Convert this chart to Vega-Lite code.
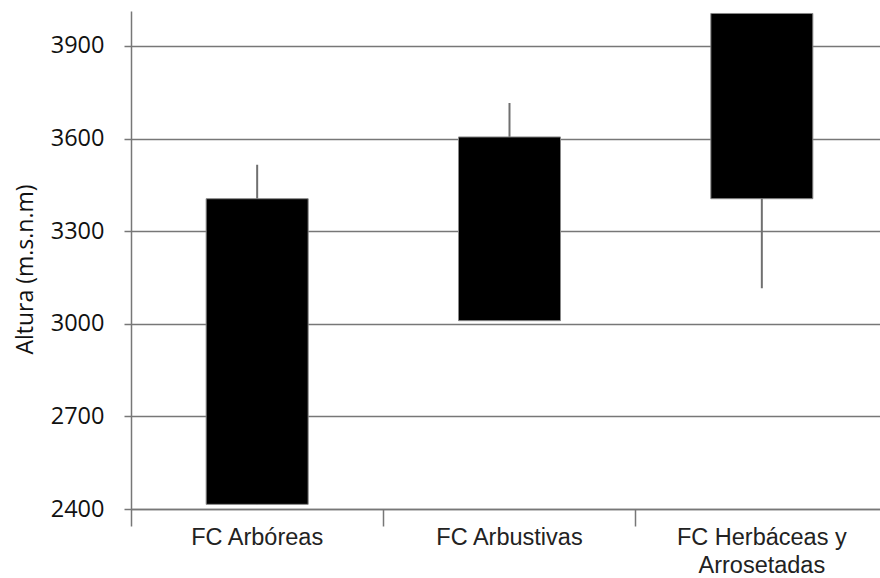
{
  "$schema": "https://vega.github.io/schema/vega-lite/v6.json",
  "autosize": {"type": "none"},
  "width": 757,
  "height": 498,
  "padding": {"left": 131, "top": 11, "right": 0, "bottom": 69},
  "background": "white",
  "config": {"view": {"stroke": null}},
  "data": {
    "values": [
      {"grupo": "FC Arbóreas", "min": 2415, "bajo": 2415, "alto": 3405, "max": 3515},
      {"grupo": "FC Arbustivas", "min": 3010, "bajo": 3010, "alto": 3605, "max": 3715},
      {"grupo": "FC Herbáceas y Arrosetadas", "min": 3115, "bajo": 3405, "alto": 4005, "max": 4005}
    ]
  },
  "encoding": {
    "x": {
      "field": "grupo",
      "type": "nominal",
      "sort": null,
      "scale": {"paddingInner": 0, "paddingOuter": 0},
      "axis": {
        "title": null,
        "labelAngle": 0,
        "labelFont": "Liberation Sans",
        "labelFontSize": 23.5,
        "labelColor": "#222",
        "labelPadding": -1,
        "labelLimit": 400,
        "labelLineHeight": 28,
        "labelExpr": "datum.value == 'FC Herbáceas y Arrosetadas' ? ['FC  Herbáceas  y', 'Arrosetadas'] : datum.label",
        "bandPosition": 0,
        "tickSize": 17,
        "tickColor": "#777",
        "tickWidth": 1.5,
        "domainColor": "#777",
        "domainWidth": 1.5,
        "grid": false
      }
    }
  },
  "layer": [
    {
      "mark": {"type": "rule", "color": "#707070", "strokeWidth": 2},
      "encoding": {
        "y": {
          "field": "min",
          "type": "quantitative",
          "scale": {"domain": [2400, 4013], "nice": false, "zero": false},
          "axis": {
            "title": "Altura (m.s.n.m)",
            "titleFont": "Open Sans",
            "titleFontSize": 23,
            "titleFontWeight": "normal",
            "titleColor": "#111",
            "titleX": -106,
            "titleY": 258,
            "titleBaseline": "middle",
            "values": [2400, 2700, 3000, 3300, 3600, 3900],
            "format": "d",
            "labelFont": "Open Sans",
            "labelFontSize": 23.5,
            "labelColor": "#111",
            "labelPadding": 20,
            "tickSize": 7,
            "tickColor": "#777",
            "tickWidth": 1.5,
            "domainColor": "#777",
            "domainWidth": 1.5,
            "grid": true,
            "gridColor": "#777",
            "gridWidth": 1.5
          }
        },
        "y2": {"field": "max"}
      }
    },
    {
      "mark": {"type": "bar", "width": 102, "color": "black", "stroke": "#888", "strokeWidth": 1},
      "encoding": {
        "y": {"field": "bajo", "type": "quantitative"},
        "y2": {"field": "alto"}
      }
    }
  ]
}
